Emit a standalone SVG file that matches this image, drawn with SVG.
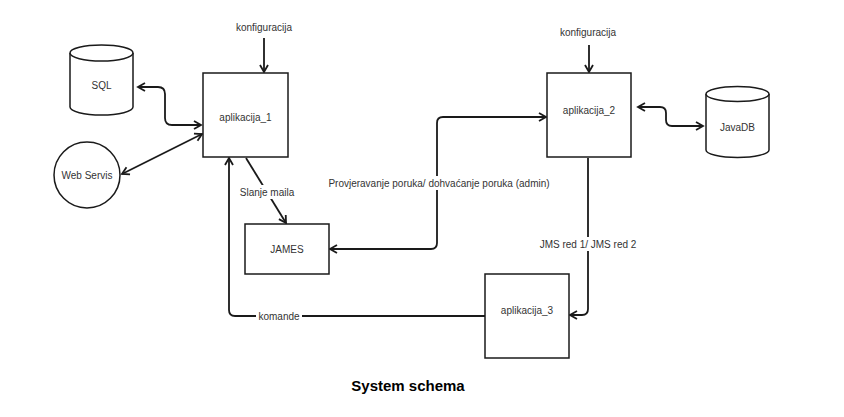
<svg xmlns="http://www.w3.org/2000/svg" width="844" height="417" viewBox="0 0 844 417">
<defs>
<style>
.box{fill:#fff;stroke:#1a1a1a;stroke-width:1.5}
.lbl{font-family:"Liberation Sans",Arial,sans-serif;font-size:10px;fill:#333;text-anchor:middle;dominant-baseline:central}
.edge{fill:none;stroke:#1a1a1a;stroke-width:1.8}
.bg{fill:#fff}
.title{font-family:"Liberation Sans",Arial,sans-serif;font-size:15px;font-weight:bold;fill:#000;text-anchor:middle}
</style>
<marker id="arr" markerUnits="userSpaceOnUse" markerWidth="12" markerHeight="12" refX="9" refY="5" orient="auto-start-reverse" viewBox="0 0 12 10">
<path d="M2,1 L9,5 L2,9" fill="none" stroke="#1a1a1a" stroke-width="1.8"/>
</marker>
</defs>
<rect width="844" height="417" fill="#fff"/>

<g id="connectors">
<path class="edge" d="M138,87 H158 Q165,87 165,94 V118 Q165,125 172,125 H201" marker-start="url(#arr)" marker-end="url(#arr)"/>
<path class="edge" d="M122,174 L202,134" marker-start="url(#arr)" marker-end="url(#arr)"/>
<path class="edge" d="M264,38 V72" marker-end="url(#arr)"/>
<path class="edge" d="M589,45 V72" marker-end="url(#arr)"/>
<path class="edge" d="M638,107 H660 Q666,107 666,113 V120 Q666,126 672,126 H703" marker-start="url(#arr)" marker-end="url(#arr)"/>
<path class="edge" d="M246,158 L286,223" marker-end="url(#arr)"/>
<path class="edge" d="M330,249 H431 Q437,249 437,243 V123 Q437,117 443,117 H546" marker-start="url(#arr)" marker-end="url(#arr)"/>
<path class="edge" d="M588,158 V309 Q588,315 582,315 H570" marker-end="url(#arr)"/>
<path class="edge" d="M485,316 H235 Q229,316 229,310 V158" marker-end="url(#arr)"/>
<rect class="bg" x="237" y="185" width="60" height="14"/>
<text class="lbl" x="267" y="192">Slanje maila</text>
<rect class="bg" x="324" y="176" width="230" height="14"/>
<text class="lbl" x="439" y="183">Provjeravanje poruka/ dohvaćanje poruka (admin)</text>
<rect class="bg" x="530" y="237" width="116" height="14"/>
<text class="lbl" x="588" y="244">JMS red 1/ JMS red 2</text>
<rect class="bg" x="256" y="309" width="46" height="14"/>
<text class="lbl" x="279" y="316">komande</text>
<text class="lbl" x="264" y="27">konfiguracija</text>
<text class="lbl" x="588" y="32">konfiguracija</text>
</g>

<g id="sql">
<path class="box" d="M70,53 A31.5,8 0 0 1 133,53 V107 A31.5,8 0 0 1 70,107 Z"/>
<path class="box" d="M70,53 A31.5,8 0 0 0 133,53" fill="none"/>
<text class="lbl" x="101.5" y="85">SQL</text>
</g>

<g id="webservis">
<circle class="box" cx="87" cy="175" r="33"/>
<text class="lbl" x="87" y="175">Web Servis</text>
</g>

<g id="aplikacija_1">
<rect class="box" x="203" y="73" width="85" height="84"/>
<text class="lbl" x="245.5" y="117">aplikacija_1</text>
</g>

<g id="james">
<rect class="box" x="245" y="224" width="84" height="50"/>
<text class="lbl" x="287" y="249">JAMES</text>
</g>

<g id="aplikacija_2">
<rect class="box" x="547" y="73" width="84" height="84"/>
<text class="lbl" x="589" y="110">aplikacija_2</text>
</g>

<g id="javadb">
<path class="box" d="M706,94 A31.5,7.5 0 0 1 769,94 V150 A31.5,7.5 0 0 1 706,150 Z"/>
<path class="box" d="M706,94 A31.5,7.5 0 0 0 769,94" fill="none"/>
<text class="lbl" x="737.5" y="127">JavaDB</text>
</g>

<g id="aplikacija_3">
<rect class="box" x="485" y="274" width="84" height="84"/>
<text class="lbl" x="527" y="310">aplikacija_3</text>
</g>

<text class="title" x="408" y="391">System schema</text>
</svg>
